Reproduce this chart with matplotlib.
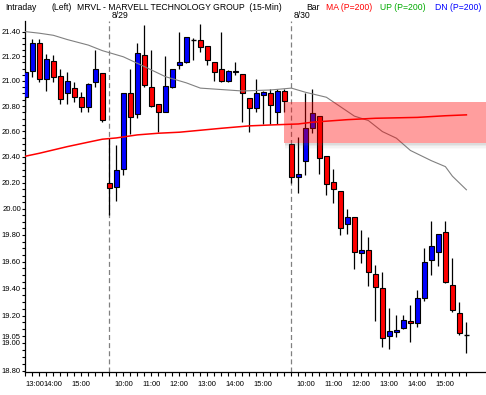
import numpy as np
import matplotlib
matplotlib.use("Agg")
import matplotlib.pyplot as plt
from matplotlib.ticker import FixedLocator, NullFormatter

plt.rcParams['font.family'] = ['Liberation Sans', 'DejaVu Sans']

# 15-min bars: 8/28 13:00-15:45, 8/29 and 8/30 full sessions
day_starts = ["13:00", "09:30", "09:30"]
day_bars = [12, 26, 26]
day_names = ["8/29", "8/30"]   # labels for the 2nd and 3rd session

opens = [20.87, 21.08, 21.31, 21.02, 21.16, 21.04, 20.90, 20.94, 20.87, 20.79, 20.99, 21.065,
         20.20, 20.17, 20.305, 20.90, 20.74, 21.21, 20.95, 20.815, 20.756, 20.955, 21.125, 21.156,
         21.33, 21.332, 21.28, 21.157, 21.10, 21.003, 21.08, 21.057, 20.862, 20.783, 20.889, 20.90,
         20.75, 20.92,
         20.498, 20.24, 20.37, 20.63, 20.72, 20.405, 20.203, 20.133, 19.882, 19.937, 19.665, 19.687,
         19.505, 19.40, 19.05, 19.078, 19.108, 19.162, 19.147, 19.33, 19.61, 19.675, 19.82, 19.423,
         19.222, 19.055]
highs = [21.08, 21.34, 21.34, 21.22, 21.21, 21.10, 21.07, 20.99, 20.915, 20.98, 21.25, 21.065,
         20.545, 20.493, 20.902, 21.098, 21.306, 21.455, 21.25, 20.815, 21.20, 21.095, 21.40, 21.354,
         21.35, 21.46, 21.28, 21.157, 21.40, 21.09, 21.15, 21.057, 20.862, 21.015, 20.92, 20.935,
         20.935, 20.935,
         20.50, 20.553, 20.907, 20.937, 20.72, 20.405, 20.305, 20.133, 19.995, 19.937, 19.838, 19.783,
         19.575, 19.52, 19.257, 19.204, 19.204, 19.277, 19.387, 19.70, 19.905, 19.805, 19.905, 19.627,
         19.297, 19.15]
lows = [20.75, 21.03, 20.99, 20.92, 20.99, 20.82, 20.82, 20.835, 20.75, 20.75, 20.955, 20.67,
        19.95, 20.06, 20.26, 20.58, 20.708, 20.955, 20.79, 20.598, 20.75, 20.945, 21.10, 21.148,
        21.17, 21.237, 21.13, 21.00, 20.995, 20.995, 21.05, 20.677, 20.593, 20.756, 20.656, 20.658,
        20.658, 20.756,
        20.20, 20.12, 20.26, 20.585, 20.267, 20.105, 20.046, 19.80, 19.81, 19.545, 19.587, 19.42,
        19.162, 18.972, 18.955, 19.04, 19.10, 19.01, 19.118, 19.305, 19.50, 19.57, 19.44, 19.227,
        19.055, 18.93]
closes = [21.07, 21.31, 21.02, 21.18, 21.03, 20.86, 21.00, 20.87, 20.79, 20.975, 21.10, 20.69,
          20.16, 20.297, 20.902, 20.711, 21.224, 20.969, 20.803, 20.756, 20.958, 21.095, 21.15, 21.354,
          21.33, 21.273, 21.17, 21.076, 21.003, 21.08, 21.075, 20.90, 20.783, 20.90, 20.91, 20.81,
          20.92, 20.84,
          20.24, 20.27, 20.625, 20.742, 20.394, 20.188, 20.15, 19.85, 19.937, 19.67, 19.687, 19.52,
          19.408, 19.034, 19.09, 19.095, 19.164, 19.147, 19.33, 19.60, 19.715, 19.805, 19.45, 19.237,
          19.07, 19.055]

# red MA line (bar index, price)
ma_bars = [0, 2, 4, 6, 9, 11, 13, 16, 19, 22, 28, 32, 35, 39, 41, 46, 50, 56, 60, 63]
ma_vals = [20.405, 20.428, 20.454, 20.48, 20.515, 20.538, 20.548, 20.572, 20.585, 20.593,
           20.624, 20.643, 20.65, 20.658, 20.672, 20.692, 20.703, 20.71, 20.723, 20.73]
# gray line
gr_bars = [0, 2, 4, 6, 9, 11, 14, 17, 20, 23, 25, 31, 35, 38, 40, 43, 45, 47, 49, 51, 53, 55,
           58, 60, 61, 63]
gr_vals = [21.40, 21.387, 21.37, 21.335, 21.29, 21.245, 21.195, 21.116, 21.035, 20.985, 20.943,
           20.92, 20.928, 20.943, 20.91, 20.87, 20.795, 20.72, 20.685, 20.598, 20.546, 20.45,
           20.37, 20.324, 20.25, 20.145]

# shaded zone
zone_start = 36.95
zone_lo, zone_hi = 20.507, 20.835

y_ticks = [21.40, 21.20, 21.00, 20.80, 20.60, 20.40, 20.20, 20.00, 19.80, 19.60, 19.40, 19.20,
           19.05, 19.00, 18.80]

W, H = 486, 395
fig = plt.figure(figsize=(W / 100, H / 100), dpi=100)
ax = fig.add_axes([25 / W, 23 / H, 461 / W, 351 / H])

# bar times
times = []
for st, n in zip(day_starts, day_bars):
    h, m = map(int, st.split(":"))
    t0 = h * 60 + m
    times += [t0 + 15 * k for k in range(n)]
x = np.arange(len(opens))

o = np.array(opens); c = np.array(closes)
ax.vlines(x, lows, highs, color='black', linewidth=0.9, zorder=2)
up = c > o
dn = c < o
bw = 0.72
ax.bar(x[up], (c - o)[up], bottom=o[up], width=bw, color='#0000FF', edgecolor='black',
       linewidth=0.8, zorder=3)
ax.bar(x[dn], (o - c)[dn], bottom=c[dn], width=bw, color='#FF0000', edgecolor='black',
       linewidth=0.8, zorder=3)
flat = c == o
ax.hlines(o[flat], x[flat] - 0.4, x[flat] + 0.4, color='black', linewidth=1.0, zorder=3)

ax.plot(gr_bars, gr_vals, color='#808080', linewidth=0.8, zorder=4)
ax.plot(ma_bars, ma_vals, color='#FF0000', linewidth=1.1, zorder=4)

# session separators
starts = np.cumsum([0] + day_bars[:-1])[1:]
for s in starts:
    ax.axvline(s, color='#808080', linewidth=0.9, linestyle=(0, (4, 2.5)), zorder=1)

# shaded zone with soft shadow
ax.fill_between([zone_start, 70], zone_lo, zone_hi, color='#FF0000', alpha=0.38,
                linewidth=0, zorder=5)
k = 1 / 2617.0
for i, a in enumerate([0.22, 0.14, 0.07, 0.03]):
    y1 = zone_lo * np.exp(-i * 1.5 * k)
    y2 = zone_lo * np.exp(-(i + 1) * 1.5 * k)
    ax.fill_between([zone_start + 0.1, 70], y2, y1, color='#606060', alpha=a,
                    linewidth=0, zorder=5)

ax.set_yscale('log')
ax.set_ylim(18.79, 21.487)
ax.set_xlim(-0.05, 65.8)
ax.yaxis.set_major_locator(FixedLocator(y_ticks))
ax.yaxis.set_major_formatter(plt.FuncFormatter(lambda v, p: "%.2f" % v))
ax.yaxis.set_minor_locator(FixedLocator(np.arange(18.80, 21.45, 0.05)))
ax.yaxis.set_minor_formatter(NullFormatter())
ax.tick_params(axis='y', which='major', length=2.5, width=0.8, pad=0.5, labelsize=5.5)
ax.tick_params(axis='y', which='minor', length=2, width=0.8)

hour_pos = [i for i, t in enumerate(times) if t % 60 == 0]
hour_lab = ["%d:%02d" % (times[i] // 60, 0) for i in hour_pos]
ax.set_xticks(hour_pos)
ax.set_xticklabels(hour_lab, fontsize=5.5)
ax.set_xticks(x, minor=True)
ax.tick_params(axis='x', which='both', length=3, width=0.8, pad=3.5)
ax.get_xticklabels()[0].set_horizontalalignment('left')

for sp in ['top', 'right']:
    ax.spines[sp].set_visible(False)
for sp in ['left', 'bottom']:
    ax.spines[sp].set_linewidth(0.9)

# header
fs = 6.2
ty = 1 - 7 / H
fig.text(5 / W, ty, "Intraday", fontsize=fs, va='center')
fig.text(51 / W, ty, "(Left)", fontsize=fs, va='center')
fig.text(77 / W, ty, "MRVL - MARVELL TECHNOLOGY GROUP  (15-Min)", fontsize=fs, va='center')
fig.text(306 / W, ty, "Bar", fontsize=fs, va='center')
fig.text(326 / W, ty, "MA (P=200)", fontsize=fs, va='center', color='#FF0000')
fig.text(380 / W, ty, "UP (P=200)", fontsize=fs, va='center', color='#00AA00')
fig.text(435 / W, ty, "DN (P=200)", fontsize=fs, va='center', color='#0000FF')
for s, name in zip(starts, day_names):
    xp = ax.transData.transform((s, 20))[0]
    fig.text((xp + 2) / W, 1 - 15 / H, name, fontsize=fs, va='center')

fig.savefig("out.png", dpi=100)
